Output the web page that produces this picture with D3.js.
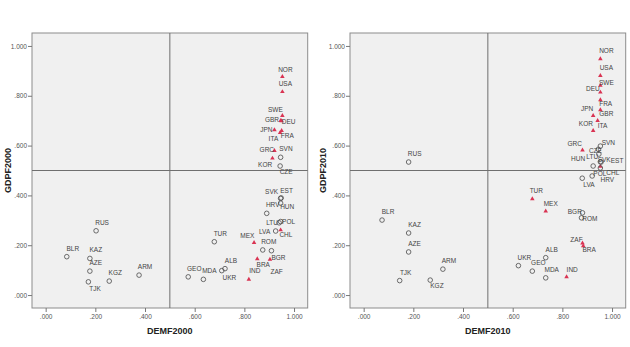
<!DOCTYPE html>
<html><head><meta charset="utf-8">
<script src="https://cdn.jsdelivr.net/npm/d3@7"></script>
<style>body{margin:0;background:#fff}svg{display:block}</style>
</head><body><svg id="c" width="630" height="347"></svg>
<script>
// ---- data ----
const countries = ["RUS","BLR","KAZ","AZE","TJK","KGZ","ARM","TUR","GEO","MDA","ALB","UKR","MEX","IND","BRA","ZAF","ROM","BGR","LVA","CHL","LTU","POL","HRV","EST","SVK","HUN","CZE","SVN","KOR","GRC","NOR","USA","SWE","GBR","DEU","JPN","FRA","ITA"];
const dem2000 = [0.203,0.085,0.178,0.178,0.172,0.256,0.376,0.679,0.574,0.635,0.722,0.709,0.839,0.818,0.852,0.903,0.874,0.909,0.926,0.946,0.940,0.946,0.890,0.948,0.946,0.946,0.944,0.946,0.913,0.921,0.953,0.953,0.953,0.946,0.950,0.921,0.950,0.944];
const gdp2000 = [0.258,0.154,0.147,0.096,0.053,0.056,0.080,0.214,0.073,0.063,0.106,0.098,0.210,0.063,0.145,0.143,0.181,0.178,0.257,0.261,0.290,0.295,0.328,0.390,0.388,0.369,0.518,0.553,0.549,0.580,0.877,0.816,0.720,0.700,0.699,0.663,0.660,0.652];
const marker2000 = ["c","c","c","c","c","c","c","c","c","c","c","c","t","t","t","t","c","c","c","t","c","c","c","c","c","c","c","c","t","t","t","t","t","t","t","t","t","t"];
const dem2010 = [0.181,0.074,0.181,0.181,0.145,0.268,0.319,0.679,0.679,0.733,0.733,0.623,0.733,0.817,0.884,0.881,0.877,0.881,0.880,0.953,0.947,0.920,0.953,0.956,0.953,0.924,0.945,0.953,0.924,0.881,0.953,0.953,0.953,0.953,0.953,0.924,0.953,0.942];
const gdp2010 = [0.534,0.301,0.249,0.173,0.058,0.060,0.104,0.386,0.096,0.069,0.150,0.118,0.337,0.073,0.197,0.208,0.310,0.330,0.469,0.516,0.566,0.478,0.510,0.534,0.535,0.518,0.585,0.598,0.660,0.582,0.948,0.881,0.841,0.743,0.814,0.720,0.783,0.700];
const marker2010 = ["c","c","c","c","c","c","c","t","c","c","c","c","t","t","t","t","c","c","c","t","c","c","c","c","c","c","c","c","t","t","t","t","t","t","t","t","t","t"];
const tickValues = [0,0.2,0.4,0.6,0.8,1.0];
const tickLabels = [".000",".200",".400",".600",".800","1.000"];

// ---- label layout (offsets of label centre from marker, px) ----
const labelOffset2000 = {TJK:[6.7,6.6],UKR:[7.6,6.6],MEX:[-6.7,-6.7],BRA:[6,5.3],ZAF:[6.7,12.4],BGR:[7,6.6],LVA:[-11,0.7],CHL:[5.3,5],LTU:[-7,0],POL:[8,0],EST:[5.5,-7],SVK:[-9,-6.8],HUN:[6.6,3.7],CZE:[6,6],SVN:[5.3,-8.3],KOR:[-7.3,6.7],GRC:[-7.6,-0.7],NOR:[3,-6.7],USA:[3,-7.7],SWE:[-7,-6.4],GBR:[-8.7,-0.7],DEU:[7,0.7],JPN:[-8,0],FRA:[5.6,5.3],ITA:[-6.7,5.6]};
const labelOffset2010 = {KGZ:[6.7,6],TUR:[4,-8],MEX:[5,-7],IND:[5.6,-6.7],BGR:[-7.7,-1],ROM:[8.3,0.6],ZAF:[-6,-3.3],BRA:[6,3.3],LVA:[6.7,6.7],POL:[7.7,-2],HRV:[7,12],CHL:[12.5,6],HUN:[-15,-7.7],LTU:[-6.6,2.7],SVK:[3.8,-1.7],EST:[16,-1.7],CZE:[-3,1],SVN:[8,-3],GRC:[-7.7,-6],KOR:[-7.3,-7.4],ITA:[5,5.3],JPN:[-6,-7.4],GBR:[6,3.3],FRA:[5.3,3.3],DEU:[-7.4,-3.3],SWE:[6,-2.4],USA:[6,-7.4],NOR:[6,-8.3]};

const svg = d3.select("#c");
const fmt = v => tickLabels[tickValues.indexOf(v)];

function panel(x0, dem, gdp, marks, offs, xTitle, yTitle, yTitleX) {
  const x = d3.scaleLinear().domain([-0.055,1.055]).range([x0, x0+275.7]);
  const y = d3.scaleLinear().domain([-0.052,1.052]).range([308,33]);
  const g = svg.append("g");
  g.append("rect").attr("x",x0).attr("y",33).attr("width",275.7).attr("height",275)
    .attr("fill","#f0f0f0").attr("stroke","#8c8c8c").attr("stroke-width",1);
  g.append("line").attr("x1",x(0.5)).attr("x2",x(0.5)).attr("y1",33).attr("y2",308).attr("stroke","#6f6f6f").attr("stroke-width",1);
  g.append("line").attr("x1",x0).attr("x2",x0+275.7).attr("y1",y(0.5)).attr("y2",y(0.5)).attr("stroke","#6f6f6f").attr("stroke-width",1);

  const xa = d3.axisBottom(x).tickValues(tickValues).tickFormat(fmt).tickSize(4).tickSizeOuter(0);
  const ya = d3.axisLeft(y).tickValues(tickValues).tickFormat(fmt).tickSize(4).tickSizeOuter(0);
  const gx = g.append("g").attr("transform","translate(0,308)").call(xa);
  const gy = g.append("g").attr("transform",`translate(${x0},0)`).call(ya);
  [gx,gy].forEach(a=>{
    a.select(".domain").remove();
    a.selectAll("line").attr("stroke","#777");
    a.selectAll("text").attr("font-family","Liberation Sans Narrow, Liberation Sans, Arial, sans-serif").attr("font-size",6.5).attr("fill","#555");
  });
  gx.selectAll("text").attr("dy","0.9em").attr("y",5);
  gy.selectAll("text").attr("x",-5);

  g.append("text").attr("x",x(0.5)).attr("y",334).attr("text-anchor","middle")
    .attr("font-family","Liberation Sans, Arial, sans-serif").attr("font-weight","bold").attr("font-size",9).attr("fill","#222").text(xTitle);
  g.append("text").attr("transform",`translate(${yTitleX},${y(0.5)}) rotate(-90)`).attr("text-anchor","middle").attr("dy","0.35em")
    .attr("font-family","Liberation Sans, Arial, sans-serif").attr("font-weight","bold").attr("font-size",9).attr("fill","#222").text(yTitle);

  const pts = countries.map((c,i)=>({c, dx:dem[i], gy:gdp[i], m:marks[i]}));
  const tri = d3.symbol().type(d3.symbolTriangle).size(9);
  pts.forEach(p=>{
    const px = x(p.dx), py = y(p.gy);
    if (p.m === "t") {
      g.append("path").attr("d",tri()).attr("transform",`translate(${px},${py})`).attr("fill","#d93352");
    } else {
      g.append("circle").attr("cx",px).attr("cy",py).attr("r",2.3).attr("fill","none").attr("stroke","#4a4a4a").attr("stroke-width",0.8);
    }
  });
  pts.forEach(p=>{
    const o = offs[p.c] || [6,-8.3];
    g.append("text").attr("x",x(p.dx)+o[0]).attr("y",y(p.gy)+o[1]).attr("dy","0.35em").attr("text-anchor","middle")
      .attr("font-family","Liberation Sans Narrow, Liberation Sans, Arial, sans-serif").attr("font-size",6.5).attr("fill","#444").text(p.c);
  });
}

panel(32, dem2000, gdp2000, marker2000, labelOffset2000, "DEMF2000", "GDPF2000", 8);
panel(350, dem2010, gdp2010, marker2010, labelOffset2010, "DEMF2010", "GDPF2010", 323);
</script></body></html>
